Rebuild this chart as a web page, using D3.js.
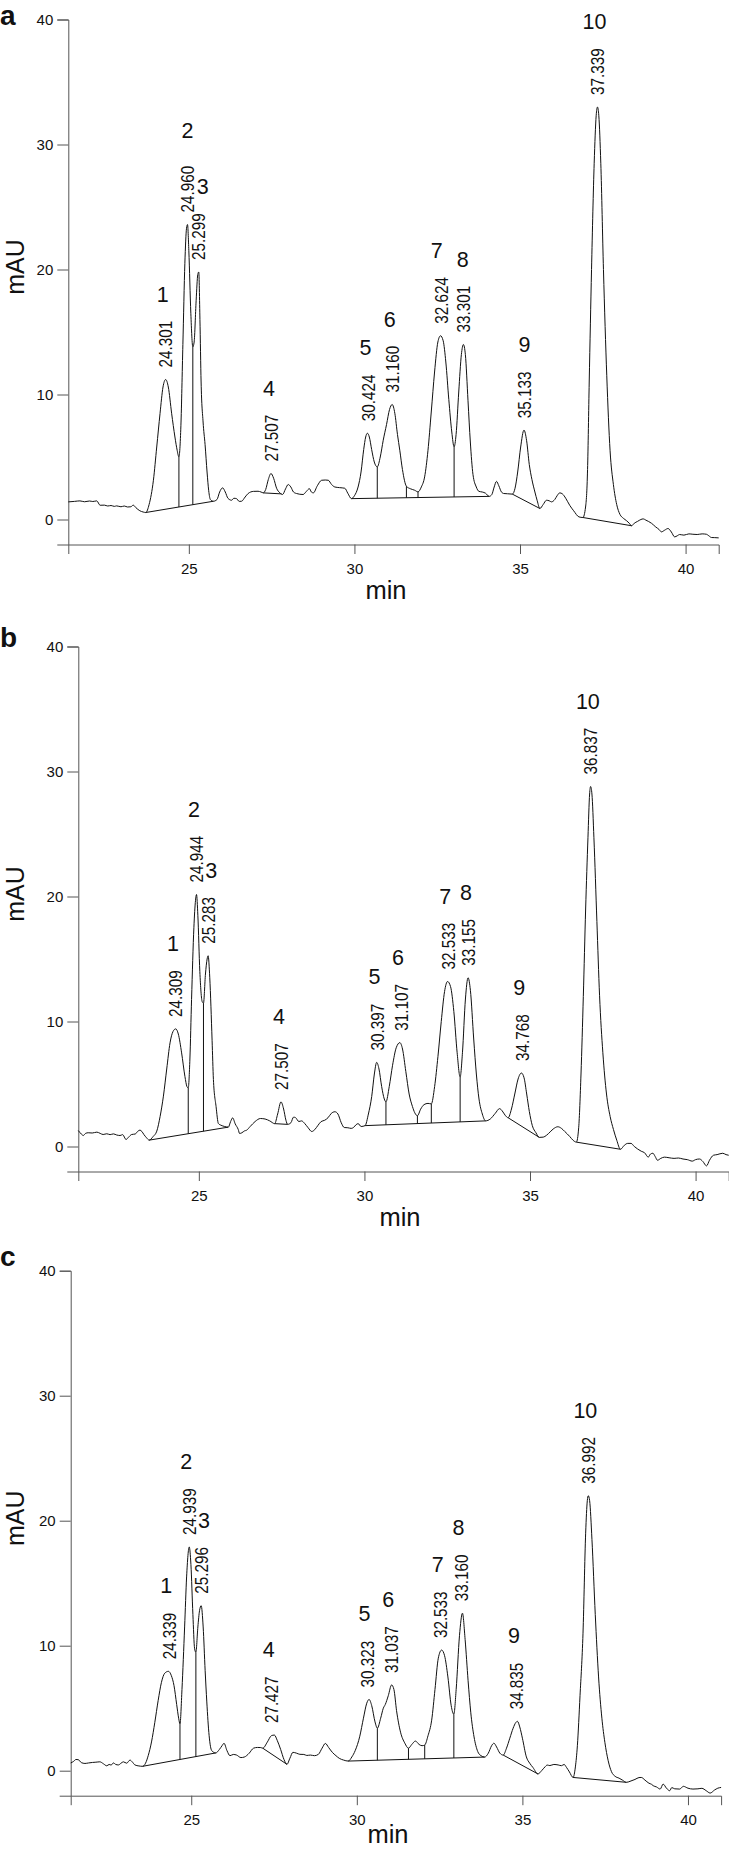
<!DOCTYPE html>
<html><head><meta charset="utf-8">
<script src="https://cdn.jsdelivr.net/npm/d3@7"></script>
<style>
body{margin:0;background:#fff;}
svg{display:block;}
text{font-family:"Liberation Sans",Arial,Helvetica,sans-serif;}
</style></head><body>
<svg id="chart" width="729" height="1849"></svg>
<script>
// ---------------- DATA ----------------
const xTicks = [25, 30, 35, 40];
const yTicks = [0, 10, 20, 30, 40];
const xDomain = [21.36, 41.0];
const yDomain = [-2, 40];
const peakNums = ["1","2","3","4","5","6","7","8","9","10"];

// Panel a trace
const timeA = [21.36,21.55,21.71,21.85,22.0,22.1,22.22,22.32,22.45,22.55,22.65,22.75,22.82,22.95,23.05,23.15,23.25,23.32,23.40,23.52,23.62,23.70,23.80,23.93,24.03,24.13,24.22,24.30,24.38,24.48,24.58,24.65,24.70,24.76,24.82,24.88,24.93,24.96,25.00,25.06,25.12,25.16,25.22,25.27,25.30,25.335,25.37,25.43,25.49,25.55,25.60,25.65,25.74,25.85,25.93,26.02,26.10,26.18,26.29,26.36,26.44,26.52,26.59,26.70,26.79,26.95,27.09,27.18,27.25,27.32,27.40,27.48,27.56,27.65,27.75,27.83,27.92,28.00,28.08,28.16,28.25,28.45,28.55,28.64,28.70,28.76,28.88,29.01,29.12,29.21,29.31,29.41,29.55,29.71,29.80,29.91,30.00,30.11,30.20,30.28,30.34,30.39,30.45,30.52,30.60,30.69,30.78,30.87,30.97,31.06,31.14,31.22,31.30,31.37,31.45,31.57,31.70,31.82,31.92,32.02,32.12,32.22,32.32,32.42,32.52,32.60,32.68,32.76,32.85,32.94,33.01,33.07,33.15,33.23,33.29,33.35,33.43,33.50,33.58,33.68,33.76,33.86,33.96,34.07,34.15,34.22,34.29,34.36,34.44,34.51,34.62,34.77,34.85,34.93,35.02,35.12,35.20,35.28,35.36,35.45,35.52,35.60,35.70,35.80,35.88,35.95,36.05,36.12,36.20,36.28,36.38,36.50,36.62,36.78,36.90,36.98,37.04,37.09,37.16,37.24,37.30,37.34,37.38,37.44,37.52,37.62,37.72,37.82,37.92,38.02,38.12,38.22,38.30,38.37,38.45,38.55,38.65,38.72,38.80,38.97,39.10,39.20,39.27,39.37,39.47,39.57,39.67,39.75,39.82,39.95,40.10,40.22,40.35,40.50,40.63,40.70,40.78,40.88,41.0];
const mauA = [1.41,1.45,1.49,1.42,1.48,1.44,1.49,1.14,1.15,1.08,1.12,1.05,1.09,1.02,1.08,1.0,1.02,1.15,0.95,0.70,0.6,0.56,1.2,3.14,5.8,8.48,10.6,11.2,10.6,8.5,6.6,5.5,5.0,7.5,14,20.5,23.3,23.6,21.5,16.5,13.8,14.2,17.5,19.6,19.8,16,11,7.8,6.0,3.8,2.3,1.6,1.46,1.6,2.2,2.53,2.2,1.7,1.54,1.7,1.67,1.45,1.46,1.8,2.08,2.25,2.26,2.2,2.13,2.4,3.2,3.68,3.3,2.5,2.13,2.0,2.45,2.8,2.6,2.2,2.08,2.0,2.25,2.47,2.2,2.13,2.7,3.14,3.16,3.14,2.8,2.6,2.55,2.5,2.1,1.67,1.9,2.6,3.8,5.6,6.6,6.9,6.6,5.6,4.6,4.21,5.0,6.34,7.6,8.8,9.2,8.5,6.8,5.54,4.0,2.66,2.45,2.34,2.21,2.6,3.41,5.5,8.6,11.8,14.2,14.7,14.3,12.6,9.6,7.0,5.81,6.8,10.2,13.2,14.0,13.2,9.5,6.2,3.6,2.6,2.25,2.2,2.1,1.85,2.0,2.6,3.05,2.7,2.2,2.08,2.06,2.03,2.5,3.8,5.8,7.15,6.3,4.4,3.2,2.2,1.5,0.88,1.2,1.54,1.5,1.41,1.6,1.9,2.13,2.05,1.7,1.14,0.7,0.21,0.16,1.0,4.0,11,20,28.5,32.3,33.0,32.3,28.5,20,11.5,5.5,2.8,1.2,0.4,0.1,-0.1,-0.3,-0.5,-0.3,-0.15,0.0,0.05,-0.05,-0.3,-0.6,-0.8,-0.99,-0.85,-0.72,-1.0,-1.39,-1.3,-1.2,-1.25,-1.15,-1.18,-1.2,-1.15,-1.18,-1.3,-1.44,-1.45,-1.47];

// Panel b trace
const timeB = [21.36,21.45,21.51,21.58,21.66,21.78,21.92,22.02,22.11,22.22,22.32,22.42,22.52,22.62,22.70,22.80,22.88,22.97,23.08,23.15,23.22,23.28,23.34,23.42,23.50,23.62,23.73,23.83,23.93,24.03,24.13,24.22,24.30,24.38,24.48,24.58,24.64,24.68,24.73,24.78,24.85,24.90,24.93,24.97,25.03,25.10,25.14,25.20,25.25,25.28,25.33,25.40,25.44,25.52,25.59,25.67,25.78,25.89,25.96,26.02,26.10,26.19,26.23,26.30,26.38,26.44,26.55,26.70,26.86,27.00,27.14,27.29,27.38,27.48,27.56,27.63,27.68,27.78,27.86,27.92,28.02,28.10,28.20,28.30,28.41,28.50,28.60,28.69,28.80,28.90,29.00,29.11,29.20,29.30,29.39,29.50,29.60,29.67,29.75,29.81,29.90,30.02,30.12,30.22,30.30,30.37,30.44,30.52,30.60,30.65,30.75,30.85,30.96,31.07,31.15,31.25,31.35,31.45,31.52,31.60,31.70,31.80,31.92,32.02,32.12,32.22,32.32,32.42,32.51,32.60,32.70,32.80,32.89,32.96,33.05,33.13,33.20,33.30,33.38,33.46,33.56,33.66,33.80,33.95,34.08,34.16,34.25,34.34,34.44,34.54,34.64,34.74,34.82,34.90,34.98,35.07,35.18,35.28,35.40,35.50,35.56,35.70,35.84,35.95,36.05,36.20,36.30,36.40,36.47,36.54,36.61,36.68,36.75,36.80,36.83,36.87,36.93,37.02,37.10,37.20,37.31,37.42,37.52,37.62,37.73,37.85,37.95,38.05,38.15,38.25,38.36,38.46,38.57,38.64,38.71,38.78,38.85,38.95,39.06,39.20,39.35,39.48,39.62,39.75,39.90,40.00,40.12,40.22,40.33,40.42,40.54,40.65,40.82,40.92,41.0];
const mauB = [1.28,1.0,0.88,1.05,1.1,1.08,1.15,1.05,0.96,1.02,0.95,1.01,0.92,0.88,0.95,0.56,0.75,0.96,1.0,1.2,1.31,1.2,0.96,0.7,0.51,0.8,1.23,2.4,4.03,6.2,8.29,9.2,9.41,9.0,7.49,5.6,4.8,4.69,7.0,11.76,17.5,19.7,20.16,18.5,14.0,11.6,11.47,13.8,15.0,15.26,13.5,8.5,5.36,3.2,1.84,1.7,1.6,1.55,2.0,2.29,1.8,1.36,1.04,1.1,1.25,1.3,1.6,2.0,2.24,2.2,2.05,1.83,2.6,3.57,3.0,2.1,1.77,1.9,2.35,2.31,2.0,2.05,1.83,1.5,1.2,1.35,1.7,1.99,2.1,2.3,2.65,2.78,2.6,1.9,1.52,1.5,1.45,1.52,1.75,1.83,1.6,1.67,2.6,4.0,5.8,6.73,6.2,4.8,3.8,3.57,4.8,6.5,7.9,8.31,7.8,6.0,4.2,3.2,2.7,2.46,3.0,3.35,3.45,3.41,4.8,7.2,10.0,12.4,13.2,12.8,10.8,7.5,5.56,7.5,11.8,13.5,12.5,8.6,5.8,3.8,2.6,2.05,2.2,2.65,3.03,2.85,2.5,2.3,3.0,4.2,5.4,5.88,5.5,4.2,2.8,1.67,1.1,0.73,0.75,0.9,1.04,1.4,1.58,1.45,1.2,0.8,0.5,0.35,1.5,5.8,12,19,24.7,28.2,28.8,28.2,24.7,18,12.1,7.5,4.2,2.4,1.36,0.5,-0.22,0.1,0.25,0.25,0.0,-0.2,-0.38,-0.5,-0.85,-0.6,-0.54,-0.8,-1.1,-0.95,-0.85,-0.9,-0.95,-0.92,-1.0,-1.05,-1.17,-1.05,-1.0,-1.2,-1.55,-1.1,-0.7,-0.65,-0.54,-0.65,-0.7];

// Panel c trace
const timeC = [21.36,21.45,21.52,21.59,21.68,21.79,21.90,22.02,22.12,22.24,22.35,22.45,22.52,22.58,22.65,22.72,22.80,22.88,22.95,23.05,23.15,23.22,23.30,23.42,23.53,23.62,23.70,23.80,23.90,24.00,24.10,24.20,24.31,24.40,24.48,24.56,24.62,24.66,24.72,24.80,24.86,24.94,24.99,25.05,25.10,25.14,25.20,25.25,25.30,25.36,25.42,25.47,25.54,25.62,25.74,25.85,25.93,25.99,26.08,26.17,26.27,26.37,26.50,26.60,26.75,26.88,27.00,27.10,27.16,27.30,27.42,27.51,27.60,27.70,27.80,27.89,27.98,28.07,28.18,28.28,28.40,28.49,28.60,28.72,28.84,28.95,29.05,29.15,29.26,29.37,29.47,29.60,29.74,29.85,29.95,30.09,30.20,30.30,30.37,30.45,30.55,30.62,30.72,30.80,30.86,30.95,31.05,31.12,31.20,31.32,31.45,31.56,31.66,31.77,31.88,31.97,32.05,32.15,32.26,32.36,32.46,32.56,32.65,32.75,32.85,32.93,33.00,33.10,33.19,33.27,33.36,33.44,33.54,33.65,33.75,33.86,33.97,34.07,34.14,34.22,34.32,34.42,34.52,34.62,34.72,34.80,34.85,34.92,35.00,35.12,35.22,35.32,35.47,35.58,35.68,35.75,35.83,35.95,36.08,36.18,36.26,36.33,36.42,36.53,36.60,36.66,36.74,36.83,36.91,36.96,36.99,37.03,37.10,37.20,37.30,37.40,37.49,37.59,37.69,37.80,37.92,38.02,38.14,38.25,38.40,38.52,38.59,38.70,38.82,38.90,38.95,39.05,39.16,39.25,39.35,39.45,39.51,39.60,39.75,39.86,40.00,40.15,40.30,40.42,40.55,40.67,40.80,40.90,41.0];
const mauC = [0.62,0.75,0.9,0.88,0.65,0.58,0.62,0.66,0.68,0.71,0.55,0.39,0.5,0.45,0.62,0.5,0.46,0.6,0.71,0.6,0.85,0.7,0.46,0.38,0.35,0.6,1.2,2.3,3.87,5.6,7.07,7.8,7.95,7.6,6.8,5.3,4.2,3.74,6.5,11.5,15.5,17.9,16.5,12.5,9.8,9.47,11.5,12.8,13.2,11.5,8.0,5.5,2.8,1.6,1.42,1.7,2.0,2.19,1.6,1.2,1.3,1.25,1.05,1.09,1.4,1.8,1.86,1.85,1.8,2.3,2.8,2.85,2.4,1.7,0.9,0.51,1.0,1.47,1.4,1.31,1.3,1.22,1.25,1.2,1.31,1.8,2.18,1.85,1.47,1.2,0.99,0.85,0.77,1.1,1.6,2.76,4.2,5.4,5.7,5.2,3.9,3.4,4.2,5.0,5.3,6.0,6.86,6.5,4.8,3.08,2.2,1.8,2.1,2.37,2.1,2.0,2.05,2.8,4.04,6.5,9.0,9.65,9.2,7.5,5.2,4.52,6.5,10.8,12.6,10.5,7.2,4.68,2.7,1.54,1.2,1.09,1.4,2.0,2.2,1.9,1.4,1.25,1.8,2.6,3.4,3.85,3.95,3.5,2.6,1.1,0.6,0.25,-0.26,0.0,0.3,0.45,0.41,0.5,0.46,0.4,0.5,0.27,-0.1,-0.54,0.3,2.0,6.0,11,19,21.6,22.0,21.6,18.5,12.5,7.5,4.2,2.27,0.8,-0.08,-0.45,-0.6,-0.75,-0.93,-0.85,-0.7,-0.55,-0.54,-0.75,-1.0,-1.09,-1.2,-1.3,-1.47,-1.07,-1.4,-1.6,-1.35,-1.45,-1.47,-1.25,-1.4,-1.47,-1.45,-1.41,-1.6,-1.79,-1.55,-1.4,-1.34];

// Retention-time labels
const rtA = ["24.301","24.960","25.299","27.507","30.424","31.160","32.624","33.301","35.133","37.339"];
const rtB = ["24.309","24.944","25.283","27.507","30.397","31.107","32.533","33.155","34.768","36.837"];
const rtC = ["24.339","24.939","25.296","27.427","30.323","31.037","32.533","33.160","34.835","36.992"];

// Integration baselines [t1, v1, t2, v2]
const baseA = [[23.70,0.56,25.74,1.46],[27.25,2.13,27.80,2.05],[29.91,1.67,34.07,1.85],[34.77,2.03,35.60,0.88],[36.90,0.16,38.37,-0.5]];
const baseB = [[23.50,0.51,25.89,1.55],[27.29,1.83,27.68,1.77],[30.02,1.67,33.66,2.05],[34.34,2.3,35.28,0.73],[36.40,0.35,37.73,-0.22]];
const baseC = [[23.53,0.35,25.74,1.42],[27.16,1.8,27.89,0.51],[29.74,0.77,33.86,1.09],[34.42,1.25,35.47,-0.26],[36.53,-0.54,38.14,-0.93]];

// Perpendicular drop lines (minutes)
const dropA = [24.70,25.12,30.69,31.57,31.92,33.01];
const dropB = [24.68,25.14,30.65,31.60,32.02,32.89];
const dropC = [24.66,25.14,30.62,31.56,32.05,32.93];

// ---------------- LAYOUT ----------------
const panels = [
  {letter:"a", t:timeA, v:mauA, rt:rtA, base:baseA, drop:dropA, left:68.3, right:718.7, top:19.5, bottom:544.5, letterY:25, minX:386, minY:599,
   nudge:{"2":[0,-9], "3":[4,0], "7":[-4.5,0], "8":[-1,0], "9":[0,0]}},
  {letter:"b", t:timeB, v:mauB, rt:rtB, base:baseB, drop:dropB, left:78.3, right:728.7, top:646.5, bottom:1171.5, letterY:647, minX:400, minY:1226,
   nudge:{"3":[3,0]}},
  {letter:"c", t:timeC, v:mauC, rt:rtC, base:baseC, drop:dropC, left:70.7, right:721.1, top:1270.7, bottom:1795.7, letterY:1266, minX:388, minY:1843,
   nudge:{"3":[3,0]}}
];
const numDx = -3;
const axisColor = "#555";
const ink = "#111";

const svg = d3.select("#chart");

function interp(ts, vs, t){
  const i = d3.bisectLeft(ts, t);
  if (i <= 0) return vs[0];
  if (i >= ts.length) return vs[vs.length-1];
  const f = (t - ts[i-1])/(ts[i]-ts[i-1]);
  return vs[i-1] + f*(vs[i]-vs[i-1]);
}

panels.forEach(p => {
  const x = d3.scaleLinear().domain(xDomain).range([p.left, p.right]);
  const y = d3.scaleLinear().domain(yDomain).range([p.bottom, p.top]);
  const g = svg.append("g");

  // panel letter
  g.append("text").attr("x", 0).attr("y", p.letterY)
    .attr("font-size", 28).attr("font-weight", "bold").attr("fill", ink).text(p.letter);

  // axes
  const yAxis = g.append("g").attr("transform", `translate(${p.left},0)`)
    .call(d3.axisLeft(y).tickValues(yTicks).tickSize(11).tickSizeOuter(11).tickPadding(4));
  const xAxis = g.append("g").attr("transform", `translate(0,${p.bottom})`)
    .call(d3.axisBottom(x).tickValues(xTicks).tickSize(9.5).tickSizeOuter(9.5).tickPadding(9));
  [yAxis, xAxis].forEach(a => {
    a.selectAll("path,line").attr("stroke", axisColor).attr("stroke-width", 1);
    a.selectAll("text").attr("font-size", 15).attr("fill", ink)
      .attr("font-family", '"Liberation Sans",Arial,sans-serif');
  });

  // axis titles
  g.append("text").attr("transform", `translate(24,${y(20.2)}) rotate(-90)`)
    .attr("text-anchor", "middle").attr("font-size", 25).attr("fill", ink).text("mAU");
  g.append("text").attr("x", p.minX).attr("y", p.minY)
    .attr("text-anchor", "middle").attr("font-size", 25.5).attr("fill", ink).text("min");

  // trace
  const pts = p.t.map((t,i) => [t, p.v[i]]);
  const line = d3.line().x(d => x(d[0])).y(d => y(d[1])).curve(d3.curveMonotoneX);
  g.append("path").datum(pts).attr("d", line)
    .attr("fill", "none").attr("stroke", ink).attr("stroke-width", 1);

  // baselines
  g.selectAll(".bl").data(p.base).enter().append("line")
    .attr("x1", d => x(d[0])).attr("y1", d => y(d[1]))
    .attr("x2", d => x(d[2])).attr("y2", d => y(d[3]))
    .attr("stroke", ink).attr("stroke-width", 1);

  // drop lines
  p.drop.forEach(t => {
    const seg = p.base.find(b => t >= b[0] && t <= b[2]);
    const vb = seg[1] + (t - seg[0])/(seg[2]-seg[0])*(seg[3]-seg[1]);
    const vc = interp(p.t, p.v, t);
    g.append("line").attr("x1", x(t)).attr("x2", x(t))
      .attr("y1", y(vb)).attr("y2", y(vc))
      .attr("stroke", ink).attr("stroke-width", 1);
  });

  // peak labels
  p.rt.forEach((rs, i) => {
    const t = +rs;
    let vmax = -Infinity;
    p.t.forEach((tt, j) => { if (Math.abs(tt - t) <= 0.1 && p.v[j] > vmax) vmax = p.v[j]; });
    const ya = y(vmax);
    g.append("text")
      .attr("transform", `translate(${x(t)},${ya - 12}) rotate(-90) scale(0.82,1)`)
      .attr("dy", "0.35em").attr("font-size", 18.6).attr("fill", ink).text(rs);
    const num = peakNums[i];
    const nd = p.nudge[num] || [numDx, 0];
    g.append("text").attr("x", x(t) + nd[0]).attr("y", ya - 78 + nd[1])
      .attr("text-anchor", "middle").attr("font-size", 21.5).attr("fill", ink).text(num);
  });
});
</script>
</body></html>
